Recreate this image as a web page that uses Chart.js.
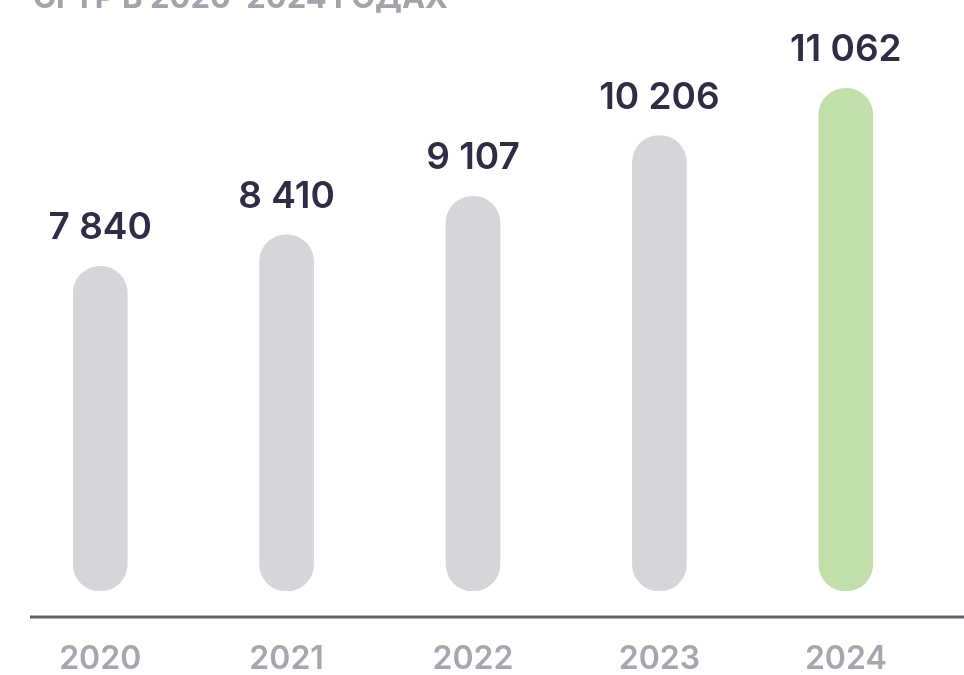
<!DOCTYPE html>
<html lang="ru">
<head>
<meta charset="utf-8">
<title>СГТР в 2020–2024 годах</title>
<script src="https://cdn.jsdelivr.net/npm/chart.js@4.4.1/dist/chart.umd.min.js"></script>
<style>
  html, body { margin: 0; padding: 0; background: #fff; overflow: hidden; }
  .wrap { position: relative; width: 964px; height: 675px; }
  .chart-title {
    position: absolute; left: 33px; top: -19px; z-index: 2;
    font: 700 31px/31px Inter, "Noto Sans", sans-serif;
    color: #a3a2ad; white-space: nowrap;
  }
  canvas { position: absolute; left: 0; top: 0; }
</style>
</head>
<body>
<div class="wrap">
  <div class="chart-title">СГТР В 2020–2024 ГОДАХ</div>
  <canvas id="chart-sgtr" width="964" height="675"></canvas>
</div>
<script>
// ── Data ───────────────────────────────────────────────
const years  = ['2020', '2021', '2022', '2023', '2024'];
const counts = [7840, 8410, 9107, 10206, 11062];
const barColors = ['#d5d5da', '#d5d5da', '#d5d5da', '#d5d5da', '#c2dfaa'];

const FONT = 'Inter, "Noto Sans", sans-serif';
const Y_MIN = 1960;
const Y_MAX = 12660;
const fmtN = n => String(n).replace(/\B(?=(\d{3})+(?!\d))/g, ' ');

// value above each pill
const valueLabels = {
  id: 'valueLabels',
  afterDatasetsDraw(chart) {
    const { ctx } = chart;
    const meta = chart.getDatasetMeta(0);
    ctx.save();
    ctx.font = `600 37px ${FONT}`;
    ctx.fillStyle = '#2e2d45';
    ctx.textAlign = 'center';
    ctx.textBaseline = 'alphabetic';
    meta.data.forEach((bar, i) => {
      ctx.fillText(fmtN(counts[i]), bar.x, bar.y - 27);
    });
    ctx.restore();
  }
};

// baseline rule under the bars, runs off the right edge
const baseRule = {
  id: 'baseRule',
  afterDraw(chart) {
    const { ctx, chartArea } = chart;
    const y = chartArea.bottom + 26;
    ctx.save();
    ctx.strokeStyle = '#5f5e70';
    ctx.lineWidth = 3;
    ctx.beginPath();
    ctx.moveTo(30, y);
    ctx.lineTo(chart.width, y);
    ctx.stroke();
    ctx.restore();
  }
};

new Chart(document.getElementById('chart-sgtr'), {
  type: 'bar',
  data: {
    labels: years,
    datasets: [{
      data: counts,
      base: Y_MIN,
      backgroundColor: barColors,
      barThickness: 54,
      borderRadius: 27,
      borderSkipped: false,
    }]
  },
  options: {
    responsive: false,
    animation: false,
    layout: { padding: { left: 7, right: 25, top: 0, bottom: 0 } },
    plugins: { legend: { display: false }, tooltip: { enabled: false } },
    scales: {
      x: {
        grid: { display: false },
        border: { display: false },
        afterFit(scale) { scale.height = 84; },
        ticks: {
          padding: 41,
          color: '#a7a6b0',
          font: { family: FONT, size: 32, weight: '600', lineHeight: 1.2 }
        }
      },
      y: { display: false, min: Y_MIN, max: Y_MAX }
    }
  },
  plugins: [valueLabels, baseRule]
});
</script>
</body>
</html>
